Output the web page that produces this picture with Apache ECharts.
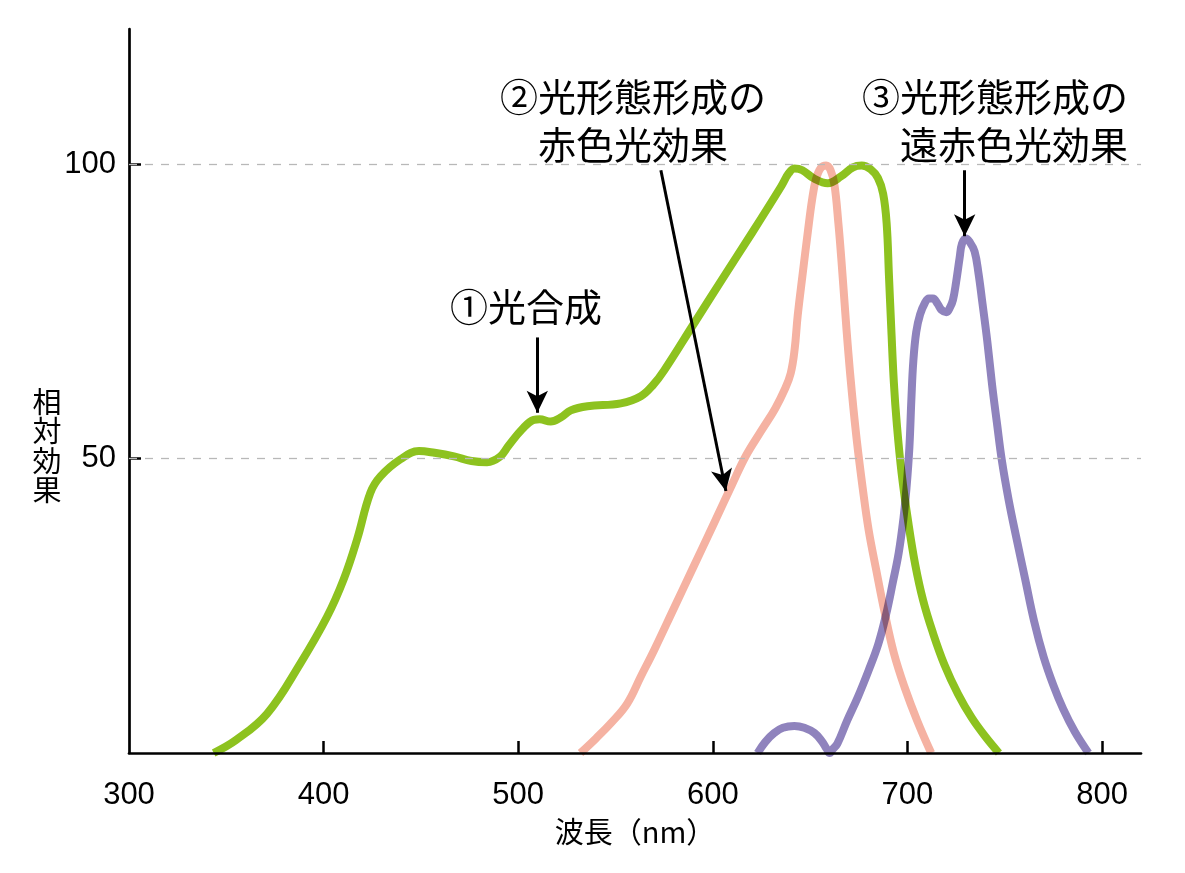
<!DOCTYPE html>
<html><head><meta charset="utf-8">
<script src="https://cdn.jsdelivr.net/npm/echarts@6.0.0/dist/echarts.min.js"></script>
<style>html,body{margin:0;padding:0;background:#fff}#chart{width:1185px;height:873px}</style>
</head><body><div id="chart"></div>
<script>
// ---- tick values ----
const xLabelValues = [300, 400, 500, 600, 700, 800];
const xTickValues = [400, 500, 600, 700, 800];
const yLabelValues = [50, 100];
const guideValues = [50, 100];

// ---- series: [wavelength nm, relative effect] ----
const photosynthesis = [
  [343.5,0],[355,2.2],[371,6.7],[388,15.2],[401.7,23.1],[410.3,29.5],[417.2,36.3],[424,44.2],
  [429.2,47],[439.5,49.9],[449,51.3],[457,51],[467,50.4],[476,49.6],[484,49.4],[490.5,50.3],
  [495,52.2],[502,55],[508,56.6],[511,56.7],[516.7,56.3],[521.8,57],[527,58.2],[535.6,58.9],
  [552.7,59.4],[563,60.6],[569.5,62.6],[575,65],[590,72.8],[605,80.6],[620,88.3],[635,96.2],
  [639,98.5],[642,99.3],[646,99],[652,97.6],[659,96.8],[666,98],[672,99.5],[676.5,99.8],
  [681,99.2],[684.8,97.7],[687.5,95],[689.3,90],[690.5,81],[691.7,72],[693,63],[694.5,56],
  [697,47.5],[700.5,39],[704,32],[708,26],[713,20.5],[719,15],[726,10],[733,6],
  [740,2.8],[747,0]
];
const redEffect = [
  [532,0],[540,2.5],[548,5.2],[556,8.4],[563,13],[570,17.6],[580,24.6],[590,31.6],[600,38.6],
  [610,45.7],[617,50.5],[625,54.8],[632,58.5],[637,61.8],[640,64.5],[642,68.5],[643.6,74.3],
  [646,81],[648.8,88.5],[651,94],[653,97.5],[655.5,99.4],[658.2,99.8],[660.5,99],[662.5,96.5],
  [664.5,90],[666,84],[668,75],[669.5,68.5],[671.5,61],[674,53],[677,45],[680,38],[684,31],
  [688.2,24],[693,17],[698.5,11.2],[705,5.5],[712.2,0]
];
const farRedEffect = [
  [623,0],[627,1.9],[631.6,3.4],[636,4.3],[641.9,4.6],[647,4.3],[652.2,3.4],[656,2],[658.5,0.7],
  [660,0],[661.5,0.6],[664,1.6],[669,5.5],[674.5,9.5],[680,14],[685,18.5],[689,23.5],[692.5,29],
  [695.5,34],[698,40],[699.5,45],[701,52],[702,60],[703,66.5],[704.5,71.5],[706.5,74.5],[709,76.5],
  [711,77.2],[713.1,77.2],[715.5,76.3],[717.4,75.3],[720,74.9],[722,75.8],[723.4,77],[725,80],
  [726.8,84.1],[728,86.5],[730,87.4],[732,86.8],[734.5,85.2],[736.5,81.5],[738.5,76.5],[741,70],
  [743.5,62.5],[746,56],[748.5,49.7],[752,43],[756,36.5],[760.5,29.5],[765,22.5],[770,16.3],
  [775,11.5],[780,7.5],[786,3.6],[793,0]
];

// ---- annotation arrows (data coordinates) ----
const arrowPhotosynthesis = [[509.8, 70.6], [509.8, 57.8]];
const arrowRed = [[573.3, 99.0], [606.7, 44.5]];
const arrowFarRed = [[729.4, 99.0], [729.4, 87.8]];

const JP = '"Noto Sans CJK JP", "Noto Sans", sans-serif';
const NUM = '"Liberation Sans", Arial, sans-serif';

function curve(name, data, color) {
  return {
    name, type: 'line', data, smooth: 0.4,
    showSymbol: false, symbol: 'none', blendMode: 'multiply',
    lineStyle: { color, width: 8, cap: 'butt', join: 'round' }, z: 3, silent: true
  };
}
function arrowLine(pts) {
  return [{ coord: pts[0] }, { coord: pts[1] }];
}

const chart = echarts.init(document.getElementById('chart'), null, { renderer: 'canvas' });
chart.setOption({
  animation: false,
  grid: { left: 129, right: 44, top: 29, bottom: 120 },
  xAxis: {
    type: 'value', min: 300, max: 820, interval: 100,
    axisLine: { lineStyle: { color: '#000', width: 2.7 } },
    axisTick: { inside: true, length: 12, customValues: xTickValues, lineStyle: { color: '#000', width: 2.5 } },
    axisLabel: { customValues: xLabelValues, margin: 27, color: '#000', fontSize: 31, fontFamily: NUM },
    splitLine: { show: false },
    name: '波長（nm）', nameLocation: 'middle', nameGap: 64,
    nameTextStyle: { color: '#000', fontSize: 29, fontFamily: JP }
  },
  yAxis: {
    type: 'value', min: 0, max: 123, interval: 50,
    axisLine: { show: true, lineStyle: { color: '#000', width: 2.7 } },
    axisTick: { show: true, inside: true, length: 12, customValues: yLabelValues, lineStyle: { color: '#000', width: 2.5 } },
    axisLabel: { customValues: yLabelValues, margin: 13, color: '#000', fontSize: 31, fontFamily: NUM },
    splitLine: { show: false }
  },
  graphic: [
    { type: 'text', x: 47, y: 446, style: { text: '相\n対\n効\n果', fontSize: 29, fontFamily: JP, fill: '#000', lineHeight: 29.5, align: 'center', verticalAlign: 'middle', textAlign: 'center', textVerticalAlign: 'middle' } },
    { type: 'text', x: 526, y: 307, style: { text: '①光合成', fontSize: 38, fontFamily: JP, fill: '#000', align: 'center', verticalAlign: 'middle', textAlign: 'center', textVerticalAlign: 'middle' } },
    { type: 'text', x: 633, y: 121, style: { text: '②光形態形成の\n赤色光効果', fontSize: 38, lineHeight: 48, fontFamily: JP, fill: '#000', align: 'center', verticalAlign: 'middle', textAlign: 'center', textVerticalAlign: 'middle' } },
    { type: 'text', x: 1128, y: 121, style: { text: '③光形態形成の\n遠赤色光効果', fontSize: 38, lineHeight: 48, fontFamily: JP, fill: '#000', align: 'right', verticalAlign: 'middle', textAlign: 'right', textVerticalAlign: 'middle' } }
  ],
  series: [
    {
      name: 'guides', type: 'line', data: [], z: 1, silent: true,
      markLine: {
        silent: true, symbol: 'none', animation: false,
        label: { show: false },
        lineStyle: { color: '#b8b8b8', width: 1.3, type: [8, 8] },
        emphasis: { disabled: true },
        data: guideValues.map(v => ({ yAxis: v }))
      }
    },
    curve('光合成', photosynthesis, '#8dc21f'),
    curve('赤色光効果', redEffect, '#f5b2a2'),
    curve('遠赤色光効果', farRedEffect, '#8f83bd'),
    {
      name: 'arrows', type: 'line', data: [], z: 5, silent: true,
      markLine: {
        silent: true, animation: false, symbol: ['none', 'arrow'], symbolSize: [16, 22],
        label: { show: false },
        emphasis: { disabled: true },
        lineStyle: { color: '#000', width: 3, type: 'solid' },
        data: [arrowLine(arrowPhotosynthesis), arrowLine(arrowRed), arrowLine(arrowFarRed)]
      }
    }
  ]
});
</script></body></html>
